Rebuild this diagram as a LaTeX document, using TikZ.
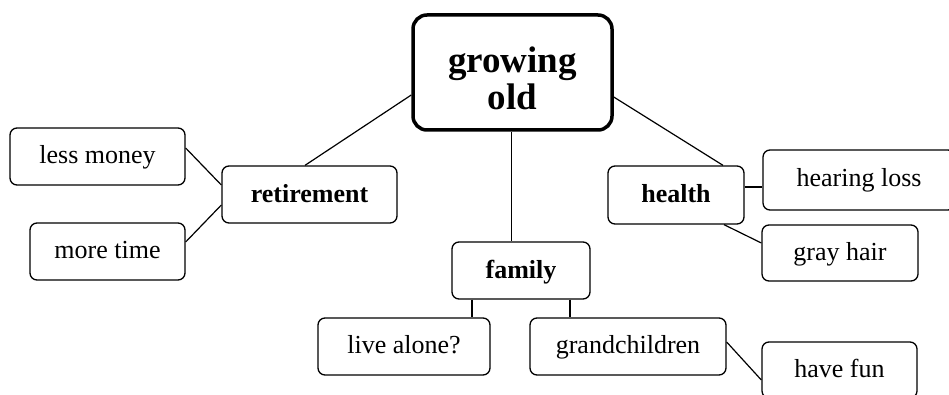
\documentclass[tikz,border=0pt]{standalone}
\usepackage{fontspec}
\setmainfont{Liberation Serif}
\begin{document}
\begin{tikzpicture}[x=1pt,y=-1pt,
  box/.style={draw, rectangle, rounded corners=7pt, line width=1.3pt, inner sep=0pt,
    text height=20pt, text depth=6pt,
    minimum height=57pt, font=\fontsize{26}{30}\selectfont},
  bbox/.style={box, font=\fontsize{26}{30}\selectfont\bfseries, text height=22pt, text depth=6pt},
  mainbox/.style={draw, rectangle, rounded corners=14pt, line width=3.5pt, inner sep=0pt,
    text height=80pt, text depth=5pt,
    align=center, font=\fontsize{37}{37}\selectfont\bfseries},
  conn/.style={line width=1.2pt}]
\useasboundingbox (0,0) rectangle (949,395);
\fill[white] (0,0) rectangle (949,395);
\clip (0,0) rectangle (949,395);
\node[mainbox, minimum width=199pt, minimum height=115pt] (go) at (512.5,72.5) {growing\\old};
\node[box, minimum width=175pt] (lm) at (97.5,156.5) {less money};
\node[box, minimum width=155pt] (mt) at (107.5,251.5) {more time};
\node[bbox, minimum width=175pt] (ret) at (309.5,194.5) {retirement};
\node[bbox, minimum width=138pt] (fam) at (521,270.5) {family};
\node[box, minimum width=172pt] (la) at (404,346.5) {live alone?};
\node[box, minimum width=196pt] (gc) at (628,346.5) {grandchildren};
\node[bbox, minimum width=136pt, minimum height=58pt] (hea) at (676,195) {health};
\node[box, minimum width=192pt, minimum height=60pt] (hl) at (859,180) {hearing loss};
\node[box, minimum width=156pt, minimum height=56pt] (gh) at (840,253) {gray hair};
\node[box, minimum width=155pt, minimum height=56pt] (hf) at (839.5,370) {have fun};
\draw[conn] ([yshift=-22.5pt]go.west) -- ([xshift=-4.5pt]ret.north);
\draw[conn] (go.south -| fam.north) ++(-9.5pt,0) coordinate (gs) -- (gs |- fam.north);
\draw[conn] ([yshift=-24.5pt]go.east) -- ([xshift=47pt]hea.north);
\draw[conn] ([yshift=8.5pt]lm.east) -- ([yshift=9.5pt]ret.west);
\draw[conn] ([yshift=9.5pt]mt.east) -- ([yshift=-10.5pt]ret.west);
\draw[conn] ([yshift=8pt]hea.east) coordinate (he) -- (he -| hl.west);
\draw[conn] ([xshift=48pt]hea.south) -- ([yshift=10pt]gh.west);
\draw[conn] ([xshift=-49pt]fam.south) coordinate (fl) -- (fl |- la.north);
\draw[conn] ([xshift=49pt]fam.south) coordinate (fr) -- (fr |- gc.north);
\draw[conn] ([yshift=4.5pt]gc.east) -- ([yshift=-10pt]hf.west);
\end{tikzpicture}
\end{document}
